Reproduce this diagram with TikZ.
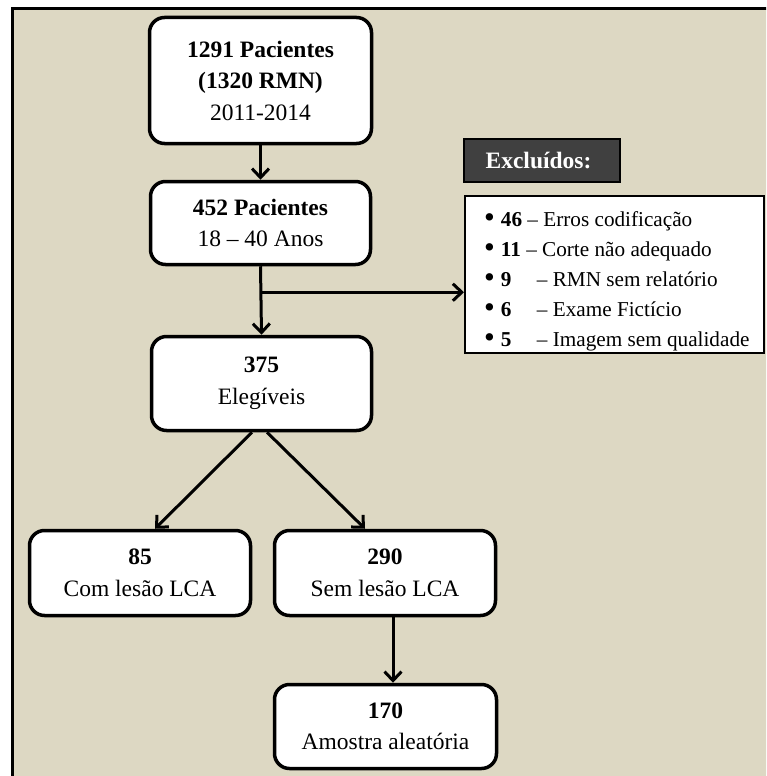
\documentclass[tikz,border=0pt]{standalone}
\usepackage{fontspec}
\setmainfont{Liberation Serif}
\usetikzlibrary{arrows.meta}
\definecolor{bgtan}{RGB}{221,216,195}
\definecolor{hdrgray}{RGB}{64,64,64}
\newcommand\bigbul{\raisebox{-1.5pt}{\scalebox{1.45}{\textbullet}}}
\tikzset{
  flowbox/.style={draw=black, line width=3.5pt, rounded corners=15pt, fill=white,
    align=center, inner sep=0pt, font=\fontsize{23.5}{31.5}\selectfont},
  arr/.style={line width=3pt, -{Straight Barb[length=9pt,width=17pt,line width=3pt]}},
  rowtxt/.style={anchor=base west, inner sep=0pt, font=\fontsize{21.2}{25}\selectfont}
}
\begin{document}
\begin{tikzpicture}[x=1pt,y=-1pt]
\useasboundingbox (0,0) rectangle (766,776);
\clip (0,0) rectangle (766,776);
\fill[white] (0,0) rectangle (766,776);
\draw[fill=bgtan, line width=3pt] (12,9) rectangle (790,800);

\node[flowbox, minimum width=222pt, minimum height=126pt] (b1) at (260.5,80.5)
  {\textbf{1291 Pacientes}\\\textbf{(1320 RMN)}\\2011-2014};
\node[flowbox, minimum width=220pt, minimum height=83pt] (b2) at (260.5,223)
  {\textbf{452 Pacientes}\\18 -- 40 Anos};
\node[flowbox, minimum width=220pt, minimum height=94pt] (b3) at (261.5,383.5)
  {\textbf{375}\\Elegíveis};
\node[flowbox, minimum width=221pt, minimum height=85pt] (b4) at (140,573)
  {\textbf{85}\\Com lesão LCA};
\node[flowbox, minimum width=221pt, minimum height=85pt] (b5) at (385,573)
  {\textbf{290}\\Sem lesão LCA};
\node[flowbox, minimum width=222pt, minimum height=84pt] (b6) at (385.5,726.5)
  {\textbf{170}\\Amostra aleatória};

\node[draw=black, line width=2pt, fill=hdrgray, text=white, minimum width=156pt,
  minimum height=43pt, inner sep=0pt, font=\fontsize{23.5}{28}\selectfont\bfseries]
  (hdr) at (542,160.5) {\hspace{-7pt}Excluídos:};
\node[draw=black, line width=2pt, fill=white, minimum width=299pt, minimum height=157pt,
  inner sep=0pt] (lst) at (614.5,274.5) {};

\node[rowtxt] (r1) at (484,226) {\bigbul\hspace{6pt}\textbf{46} -- Erros codificação};
\node[rowtxt] (r2) at (484,256) {\bigbul\hspace{6pt}\textbf{11} -- Corte não adequado};
\node[rowtxt] (r3) at (484,286) {\bigbul\hspace{6pt}\makebox[36pt][l]{\textbf{9}}-- RMN sem relatório};
\node[rowtxt] (r4) at (484,316) {\bigbul\hspace{6pt}\makebox[36pt][l]{\textbf{6}}-- Exame Fictício};
\node[rowtxt] (r5) at (484,346) {\bigbul\hspace{6pt}\makebox[36pt][l]{\textbf{5}}-- Imagem sem qualidade};

\draw[arr] (b1.south) -- (b2.north);
\draw[arr] (b2.south) -- (b3.north);
\coordinate (br) at ([yshift=-26pt]b2.south);
\draw[arr] (br) -- (br -| lst.west);
\draw[arr] ([xshift=-9.5pt]b3.south) -- ([xshift=15pt]b4.north);
\draw[arr] ([xshift=5.5pt]b3.south) -- ([xshift=-20pt]b5.north);
\draw[arr] ([xshift=8pt]b5.south) -- ([xshift=7.5pt]b6.north);
\end{tikzpicture}
\end{document}
